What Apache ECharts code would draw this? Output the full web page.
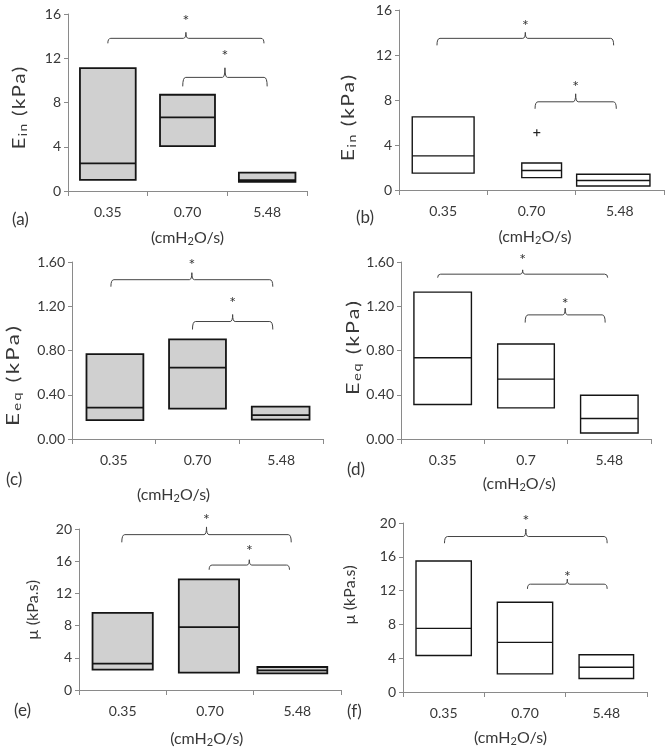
<!DOCTYPE html>
<html><head><meta charset="utf-8">
<script src="https://cdn.jsdelivr.net/npm/echarts@6/dist/echarts.min.js"></script>
<style>html,body{margin:0;padding:0;background:#fff}#c{width:670px;height:751px}</style>
</head><body><div id="c"></div>
<script>
// ---------- data ----------
const catsStd = ['0.35', '0.70', '5.48'];
const catsD = ['0.35', '0.7', '5.48'];
const yTicksEin = [0, 4, 8, 12, 16];
const yTicksEeq = [0, 0.4, 0.8, 1.2, 1.6];
const yTicksMu = [0, 4, 8, 12, 16, 20];

// boxes: [low, median, high]
const boxesA = [[1.0, 2.5, 11.1], [4.05, 6.65, 8.7], [0.82, 0.97, 1.66]];
const boxesB = [[1.5, 3.03, 6.5], [1.1, 1.73, 2.4], [0.36, 0.84, 1.4]];
const boxesC = [[0.17, 0.284, 0.767], [0.275, 0.646, 0.90], [0.175, 0.215, 0.293]];
const boxesD = [[0.312, 0.735, 1.328], [0.281, 0.541, 0.859], [0.054, 0.185, 0.396]];
const boxesE = [[2.53, 3.27, 9.58], [2.16, 7.8, 13.73], [2.07, 2.45, 2.86]];
const boxesF = [[4.32, 7.53, 15.5], [2.14, 5.87, 10.62], [1.59, 2.93, 4.4]];
const outliersB = [[1.06, 5.1]];

// significance brackets: [fromCategory, toCategory, level]
const bracketsA = [[0, 1.96, 13.8], [0.94, 2.0, 10.27]];
const bracketsB = [[-0.07, 1.93, 13.48], [1.04, 1.96, 7.84]];
const bracketsC = [[-0.035, 1.9, 1.44], [0.94, 1.9, 1.062]];
const bracketsD = [[-0.06, 1.98, 1.49], [0.99, 1.95, 1.122]];
const bracketsE = [[-0.01, 1.93, 19.3], [0.99, 1.91, 15.52]];
const bracketsF = [[0.01, 2.01, 18.4], [1.03, 2.01, 12.76]];

// ---------- layout / style ----------
const FONT = 'Lato';
const GREY = '#d0d0d0';
const panels = [
  {letter: '(a)', lx: 12, ly: 220, grid: {left: 68, top: 14, width: 239, height: 177}, cats: catsStd, ticks: yTicksEin, dec: 0,
   yname: ['E', 'in', ' (kPa)'], yfs: 18, yl: [19, 108, 84], xGap: 37, xShift: 0,
   boxes: boxesA, fill: GREY, lw: 1.8, frac: [0.70, 0.69, 0.71], off: [0, 0, 0],
   brackets: bracketsA, bs: [[5, 6, 15], [9, 9.6, 15.7]]},
  {letter: '(b)', lx: 356, ly: 218, grid: {left: 399, top: 10, width: 265, height: 180}, cats: catsStd, ticks: yTicksEin, dec: 0,
   yname: ['E', 'in', ' (kPa)'], yfs: 18, yl: [348, 118, 88], xGap: 37, xShift: 3.5,
   boxes: boxesB, fill: '#fff', lw: 1.4, frac: [0.70, 0.45, 0.83], off: [0, 0.115, -0.074],
   brackets: bracketsB, bs: [[7, 6, 10.6], [7, 8, 10.7]], outliers: outliersB},
  {letter: '(c)', lx: 6, ly: 480, grid: {left: 72, top: 262, width: 251, height: 177}, cats: catsStd, ticks: yTicksEeq, dec: 2,
   yname: ['E', 'eq', ' (kPa)'], yfs: 18, yl: [13, 376, 102], xGap: 46, xShift: -24,
   boxes: boxesC, fill: GREY, lw: 1.8, frac: [0.68, 0.68, 0.69], off: [0.013, 0, -0.006],
   brackets: bracketsC, bs: [[7, 7, 11.7], [8, 7, 15.3]]},
  {letter: '(d)', lx: 347, ly: 470, grid: {left: 401, top: 262, width: 250, height: 177}, cats: catsD, ticks: yTicksEeq, dec: 2,
   yname: ['E', 'eq', ' (kPa)'], yfs: 18, yl: [353, 348, 96], xGap: 35, xShift: -6.7,
   boxes: boxesD, fill: '#fff', lw: 1.4, frac: [0.69, 0.68, 0.69], off: [0, 0, 0],
   brackets: bracketsD, bs: [[3.5, 4.3, 14], [7.7, 6.7, 8.3]]},
  {letter: '(e)', lx: 14, ly: 711, grid: {left: 79, top: 529, width: 262, height: 161}, cats: catsStd, ticks: yTicksMu, dec: 0,
   yname: ['\u00b5', '', ' (kPa.s)'], yfs: 16, yl: [33, 610, 60], xGap: 39, xShift: -3.3,
   boxes: boxesE, fill: GREY, lw: 1.8, frac: [0.69, 0.69, 0.80], off: [0, -0.012, -0.057],
   brackets: bracketsE, bs: [[7.7, 7.7, 11.3], [4.7, 5.3, 13.3]]},
  {letter: '(f)', lx: 347, ly: 712, grid: {left: 403, top: 523, width: 244, height: 169}, cats: catsStd, ticks: yTicksMu, dec: 0,
   yname: ['\u00b5', '', ' (kPa.s)'], yfs: 16, yl: [350, 595, 57], xGap: 36, xShift: -14.5,
   boxes: boxesF, fill: '#fff', lw: 1.4, frac: [0.68, 0.68, 0.67], off: [0, 0, 0],
   brackets: bracketsF, bs: [[6.7, 7.4, 12.6], [4.7, 5, 6.6]]}
];

const AXIS_COLOR = '#8a8a8a';
const TEXT_COLOR = '#383838';
const NAME_SIZE = 16, SUB_SIZE = 11;
const richBase = {
  n: {fontFamily: FONT, fontSize: NAME_SIZE, color: TEXT_COLOR, lineHeight: 19},
  s: {fontFamily: FONT, fontSize: SUB_SIZE, color: TEXT_COLOR, lineHeight: 8, verticalAlign: 'bottom'}
};

const mctx = document.createElement('canvas').getContext('2d');
function textW(t, size) { mctx.font = size + 'px ' + FONT; return mctx.measureText(t).width; }

// y-axis title, sized to the original's length (part stretch, part letter spacing)
function yTitle(p) {
  const fs = p.yfs, ss = Math.round(fs * 0.68);
  const [main, sub, rest] = p.yname;
  const chars = [];
  [...main].forEach(c => chars.push([c, 'n']));
  [...sub].forEach(c => chars.push([c, 's']));
  [...rest].forEach(c => chars.push([c, 'n']));
  let natural = 0;
  chars.forEach(([c, k]) => { natural += textW(c, k === 'n' ? fs : ss); });
  const R = p.yl[2] / natural;
  const sc = R > 1 ? Math.sqrt(R) : 1;
  const sp = R > 1 ? (p.yl[2] / sc - natural) / (2 * chars.length) : 0;
  const rich = {
    n: {fontFamily: FONT, fontSize: fs, fill: TEXT_COLOR, lineHeight: fs + 3, padding: [0, sp, 0, sp]},
    s: {fontFamily: FONT, fontSize: ss, fill: TEXT_COLOR, lineHeight: Math.round(fs * 0.45), verticalAlign: 'bottom', padding: [0, sp, 0, sp]}
  };
  const text = chars.map(([c, k]) => `{${k}|${c}}`).join('');
  return {type: 'text', x: p.yl[0], y: p.yl[1], rotation: Math.PI / 2, scaleX: sc,
    style: {text: text, rich: rich, align: 'center', verticalAlign: 'middle'}};
}

function shiftPad(shift) {
  return shift >= 0 ? [0, 0, 0, 2 * shift] : [0, -2 * shift, 0, 0];
}

const grids = [], xAxes = [], yAxes = [], series = [], graphics = [];

panels.forEach((p, k) => {
  grids.push(Object.assign({containLabel: false}, p.grid));
  xAxes.push({
    type: 'category', gridIndex: k, data: p.cats, boundaryGap: true,
    axisLine: {lineStyle: {color: AXIS_COLOR, width: 1}},
    axisTick: {show: true, length: 5, lineStyle: {color: AXIS_COLOR}},
    axisLabel: {fontFamily: FONT, fontSize: 14, color: TEXT_COLOR, margin: 14},
    splitLine: {show: false},
    name: '{n|(cmH}{s|2}{n|O/s)}', nameLocation: 'middle', nameGap: p.xGap,
    nameTextStyle: {rich: richBase, padding: shiftPad(p.xShift)}
  });
  yAxes.push({
    type: 'value', gridIndex: k, min: p.ticks[0], max: p.ticks[p.ticks.length - 1],
    interval: p.ticks[1] - p.ticks[0],
    axisLine: {show: true, lineStyle: {color: AXIS_COLOR, width: 1}},
    axisTick: {show: true, length: 4, lineStyle: {color: AXIS_COLOR}},
    axisLabel: {fontFamily: FONT, fontSize: 14, color: TEXT_COLOR, margin: 7,
      formatter: v => Number(v).toFixed(p.dec)},
    splitLine: {show: false}
  });

  graphics.push(yTitle(p));

  // boxes
  series.push({
    type: 'custom', xAxisIndex: k, yAxisIndex: k, clip: false,
    data: p.boxes.map((b, i) => [i, b[0], b[1], b[2]]),
    encode: {x: 0, y: [1, 2, 3]},
    renderItem: (params, api) => {
      const i = api.value(0);
      const lo = api.coord([i, api.value(1)]);
      const md = api.coord([i, api.value(2)]);
      const hi = api.coord([i, api.value(3)]);
      const band = api.size([1, 0])[0];
      const w = band * p.frac[i];
      const cx = lo[0] + p.off[i] * band;
      const x = cx - w / 2;
      return {type: 'group', children: [
        {type: 'rect', shape: {x: x, y: hi[1], width: w, height: lo[1] - hi[1]},
         style: {fill: p.fill, stroke: '#151515', lineWidth: p.lw}},
        {type: 'line', shape: {x1: x, y1: md[1], x2: x + w, y2: md[1]},
         style: {stroke: '#151515', lineWidth: p.lw}}
      ]};
    }
  });

  // brackets
  series.push({
    type: 'custom', xAxisIndex: k, yAxisIndex: k, clip: false,
    data: p.brackets.map(b => [b[0], b[1], b[2]]),
    encode: {y: 2},
    renderItem: (params, api) => {
      const st = p.bs[params.dataIndex];
      const drop = st[0], notch = st[1], gap = st[2];
      const c0 = api.coord([0, api.value(2)]);
      const c1 = api.coord([1, api.value(2)]);
      const band = c1[0] - c0[0];
      const xa = c0[0] + api.value(0) * band;
      const xb = c0[0] + api.value(1) * band;
      const yy = c0[1];
      const xm = (xa + xb) / 2;
      const r = 3;
      const d = `M${xa},${yy + drop} Q${xa},${yy} ${xa + r},${yy} L${xm - 2.5},${yy} Q${xm},${yy} ${xm},${yy - notch} Q${xm},${yy} ${xm + 2.5},${yy} L${xb - r},${yy} Q${xb},${yy} ${xb},${yy + drop}`;
      return {type: 'group', children: [
        {type: 'path', shape: {pathData: d}, style: {stroke: '#444', fill: null, lineWidth: 1}},
        {type: 'text', x: xm, y: yy - notch - gap + 4,
         style: {text: '*', fontFamily: FONT, fontSize: 16, fill: '#333', align: 'center', verticalAlign: 'middle'}}
      ]};
    }
  });

  if (p.outliers) {
    series.push({
      type: 'custom', xAxisIndex: k, yAxisIndex: k, clip: false,
      data: p.outliers,
      encode: {y: 1},
      renderItem: (params, api) => {
        const c0 = api.coord([0, api.value(1)]);
        const c1 = api.coord([1, api.value(1)]);
        const band = c1[0] - c0[0];
        const x = c0[0] + api.value(0) * band;
        const y = c0[1];
        return {type: 'group', children: [
          {type: 'line', shape: {x1: x - 3.5, y1: y, x2: x + 3.5, y2: y}, style: {stroke: '#222', lineWidth: 1.2}},
          {type: 'line', shape: {x1: x, y1: y - 3.5, x2: x, y2: y + 3.5}, style: {stroke: '#222', lineWidth: 1.2}}
        ]};
      }
    });
  }

  graphics.push({type: 'text', x: p.lx, y: p.ly,
    style: {text: p.letter, fontFamily: FONT, fontSize: 17, fill: TEXT_COLOR, verticalAlign: 'middle'}});
});

const chart = echarts.init(document.getElementById('c'), null, {renderer: 'canvas'});
chart.setOption({
  animation: false,
  backgroundColor: '#fff',
  grid: grids, xAxis: xAxes, yAxis: yAxes, series: series, graphic: graphics
});
</script></body></html>
